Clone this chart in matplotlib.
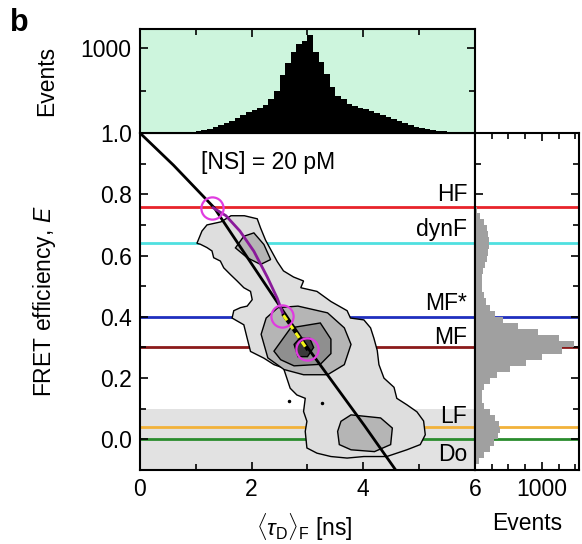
import numpy as np
import matplotlib
matplotlib.use("Agg")
import matplotlib.pyplot as plt
from matplotlib.ticker import MultipleLocator, FixedLocator

plt.rcParams['font.family'] = ['Liberation Sans', 'DejaVu Sans']
plt.rcParams['mathtext.fontset'] = 'custom'
plt.rcParams['mathtext.rm'] = 'Liberation Sans'
plt.rcParams['mathtext.it'] = 'Liberation Sans:italic'
FS = 16.5

# top histogram of <tau_D>_F (bin width 0.1 ns)
tau_edges = np.round(np.arange(0.8, 5.95, 0.1), 2)
tau_counts = [5, 15, 20, 30, 50, 70, 90, 115, 145, 175, 210, 245, 270, 300,
              330, 400, 500, 680, 820, 960, 1050, 1080, 1150, 960, 840, 700,
              540, 440, 400, 340, 320, 300, 285, 265, 240, 215, 190, 165, 140,
              115, 95, 75, 60, 45, 35, 28, 20, 15, 10, 7, 4]

# right histogram of E (bin width 0.02)
e_edges = np.round(np.arange(-0.10, 0.765, 0.02), 2)
e_counts = [20, 60, 140, 220, 290, 340, 370, 360, 300, 220, 140, 100, 110,
            140, 220, 330, 520, 760, 1000, 1300, 1480, 1250, 950, 650, 420,
            300, 220, 170, 140, 110, 100, 100, 120, 150, 180, 200, 210, 210,
            200, 180, 140, 80, 30]

# contour levels
outer_tau = [1.02, 1.11, 1.20, 1.45, 1.63, 1.87, 2.10, 2.16, 2.25, 2.37, 2.46,
             2.57, 2.75, 2.93, 2.88, 3.17, 3.42, 3.71, 3.77, 4.01, 4.13, 4.19,
             4.25, 4.28, 4.37, 4.55, 4.60, 4.78, 4.96, 5.08, 5.11, 5.02, 4.78,
             4.42, 4.01, 3.71, 3.42, 3.17, 2.99, 2.96, 2.99, 2.93, 2.96, 2.81,
             2.69, 2.63, 2.57, 2.40, 2.22, 1.98, 1.92, 1.86, 1.65, 1.68, 1.80,
             1.92, 2.01, 1.98, 1.86, 1.74, 1.62, 1.50, 1.44, 1.32, 1.29, 1.20,
             1.08]
outer_E = [0.64, 0.68, 0.70, 0.71, 0.73, 0.73, 0.72, 0.69, 0.65, 0.61, 0.58,
           0.55, 0.53, 0.517, 0.495, 0.483, 0.45, 0.42, 0.396, 0.39, 0.364,
           0.33, 0.29, 0.244, 0.20, 0.17, 0.134, 0.113, 0.09, 0.06, 0.015,
           -0.017, -0.034, -0.056, -0.056, -0.061, -0.056, -0.045, -0.028,
           0.026, 0.059, 0.091, 0.134, 0.145, 0.167, 0.20, 0.233, 0.244, 0.265,
           0.287, 0.33, 0.374, 0.396, 0.42, 0.43, 0.435, 0.456, 0.483, 0.495,
           0.517, 0.538, 0.56, 0.582, 0.593, 0.615, 0.626, 0.637]

mid_tau = [2.17, 2.26, 2.47, 2.83, 3.36, 3.66, 3.78, 3.66, 3.36, 2.93, 2.58, 2.29]
mid_E = [0.343, 0.396, 0.43, 0.435, 0.413, 0.364, 0.31, 0.244, 0.211, 0.211,
         0.228, 0.266]

dyn_tau = [1.71, 1.86, 2.04, 2.22, 2.34, 2.16, 1.92]
dyn_E = [0.625, 0.663, 0.674, 0.636, 0.587, 0.571, 0.593]

lf_tau = [3.60, 3.78, 4.31, 4.52, 4.49, 4.20, 3.78, 3.57, 3.54]
lf_E = [0.059, 0.08, 0.07, 0.037, -0.017, -0.04, -0.034, -0.017, 0.026]

in_tau = [2.40, 2.70, 3.23, 3.42, 3.42, 3.23, 2.76, 2.52]
in_E = [0.288, 0.364, 0.38, 0.327, 0.28, 0.245, 0.24, 0.26]

core_tau = [2.76, 2.86, 3.04, 3.11, 3.00, 2.83]
core_E = [0.31, 0.33, 0.33, 0.30, 0.27, 0.27]

dots_tau = [2.67, 3.26]
dots_E = [0.124, 0.119]

# static FRET line
static_tau = [0.0, 0.6, 1.33, 2.23, 3.0, 4.02, 4.58]
static_E = [1.0, 0.895, 0.756, 0.51, 0.30, 0.045, -0.10]

# dynamic FRET line HF <-> MF*
dyn_line_tau = [1.31, 1.54, 1.79, 2.04, 2.28, 2.46, 2.57]
dyn_line_E = [0.756, 0.73, 0.68, 0.614, 0.53, 0.46, 0.405]

# dynamic line MF* <-> MF
mf_line_tau = [2.57, 2.99]
mf_line_E = [0.405, 0.295]

circ_tau = [1.29, 2.55, 2.99]
circ_E = [0.756, 0.402, 0.295]

states = ['HF', 'dynF', 'MF*', 'MF', 'LF', 'Do']
state_E = [0.76, 0.64, 0.40, 0.30, 0.04, 0.00]
state_colors = ['#e8232a', '#4fe0e0', '#1f2fbf', '#8b1a1a', '#f2b23a', '#2a8c2e']
label_E = [0.80, 0.686, 0.445, 0.331, 0.075, -0.05]

fig = plt.figure(figsize=(5.82, 5.44), dpi=100)
ax = fig.add_axes([0.2405, 0.136, 0.5756, 0.6195])
axt = fig.add_axes([0.2405, 0.7555, 0.5756, 0.191], sharex=ax)
axr = fig.add_axes([0.816, 0.136, 0.1787, 0.6195], sharey=ax)

# main panel
ax.axhspan(-0.1, 0.1, color='#e2e2e2', zorder=0, lw=0)
for e, c in zip(state_E, state_colors):
    ax.axhline(e, color=c, lw=2.0, zorder=1)
    axr.axhline(e, color=c, lw=2.0, zorder=1)

ax.fill(outer_tau, outer_E, facecolor='#dedede', edgecolor='black', lw=1.0, zorder=2)
for tx, ey in [(mid_tau, mid_E), (dyn_tau, dyn_E), (lf_tau, lf_E)]:
    ax.fill(tx, ey, facecolor='#b5b5b5', edgecolor='black', lw=1.0, zorder=3)
ax.fill(in_tau, in_E, facecolor='#8f8f8f', edgecolor='black', lw=1.0, zorder=4)
ax.fill(core_tau, core_E, facecolor='#3a3a3a', edgecolor='black', lw=1.0, zorder=5)
ax.plot(dots_tau, dots_E, 'k.', ms=3, zorder=5)

ax.plot(static_tau, static_E, color='black', lw=2.0, zorder=6)
ax.plot(dyn_line_tau, dyn_line_E, color='#8a1a9a', lw=2.0, zorder=7)
ax.plot(mf_line_tau, mf_line_E, color='black', lw=2.2, zorder=7)
ax.plot(mf_line_tau, mf_line_E, color='#f5f51a', lw=2.2, ls=(0, (2, 1.5)), zorder=8)
ax.plot(circ_tau, circ_E, 'o', mfc='none', mec='#e03ce0', ms=16, mew=1.6, zorder=9)

ax.text(1.1, 0.905, '[NS] = 20 pM', fontsize=FS, va='center', ha='left', zorder=10)
for s, ey in zip(states, label_E):
    ax.text(5.86, ey, s, fontsize=FS, ha='right', va='center', zorder=10)

ax.set_xlim(0, 6)
ax.set_ylim(-0.1, 1.0)
ax.xaxis.set_major_locator(FixedLocator([0, 2, 4, 6]))
ax.xaxis.set_minor_locator(FixedLocator([1, 3, 5]))
ax.yaxis.set_major_locator(MultipleLocator(0.2))
ax.yaxis.set_minor_locator(MultipleLocator(0.1))
ax.set_yticks([0.0, 0.2, 0.4, 0.6, 0.8, 1.0])
ax.set_yticklabels(['0.0', '0.2', '0.4', '0.6', '0.8', '1.0'])
ax.set_xticks([0, 2, 4, 6])
ax.set_xticklabels(['0', '2', '4', '6'])
ax.set_xlabel(r'$\langle\tau_\mathrm{D}\rangle_\mathrm{F}$ [ns]', fontsize=FS)
ax.set_ylabel('FRET efficiency, $E$', fontsize=FS)
ax.xaxis.set_label_coords(0.49, -0.125)
ax.yaxis.set_label_coords(-0.245, 0.5)
ax.tick_params(which='both', direction='in', labelsize=FS, width=1.2,
               top=False, right=False)
ax.tick_params(which='major', length=6, pad=6)
ax.tick_params(which='minor', length=4)

# top histogram
axt.set_facecolor('#cdf5dd')
axt.stairs(tau_counts, tau_edges, fill=True, color='black', zorder=2)
axt.set_ylim(0, 1225)
axt.set_yticks([1000])
axt.set_yticklabels(['1000'])
axt.yaxis.set_minor_locator(FixedLocator([500]))
axt.xaxis.set_minor_locator(FixedLocator([1, 3, 5]))
axt.tick_params(which='both', direction='in', labelsize=FS, width=1.2,
                top=True, right=True, bottom=False, labelbottom=False)
axt.tick_params(which='major', length=6, pad=6)
axt.tick_params(which='minor', length=4)
axt.set_ylabel('Events', fontsize=FS)
axt.yaxis.set_label_coords(-0.245, 0.5)

# right histogram
axr.stairs(e_counts, e_edges, orientation='horizontal', fill=True,
           color='#a0a0a0', zorder=2)
axr.set_xlim(0, 1555)
axr.set_xticks([1000])
axr.set_xticklabels(['1000'])
axr.xaxis.set_minor_locator(FixedLocator([250, 500, 750, 1250, 1500]))
axr.tick_params(which='both', direction='in', labelsize=FS, width=1.2,
                top=True, right=True, left=True, labelleft=False)
axr.tick_params(which='major', length=6, pad=6)
axr.tick_params(which='minor', length=4)
axr.set_xlabel('Events', fontsize=FS)
axr.xaxis.set_label_coords(0.5, -0.125)

for a in (ax, axt, axr):
    for sp in a.spines.values():
        sp.set_linewidth(1.5)

fig.text(0.018, 0.985, 'b', fontsize=22, fontweight='bold', va='top', ha='left')

fig.savefig('out.png', dpi=100)
